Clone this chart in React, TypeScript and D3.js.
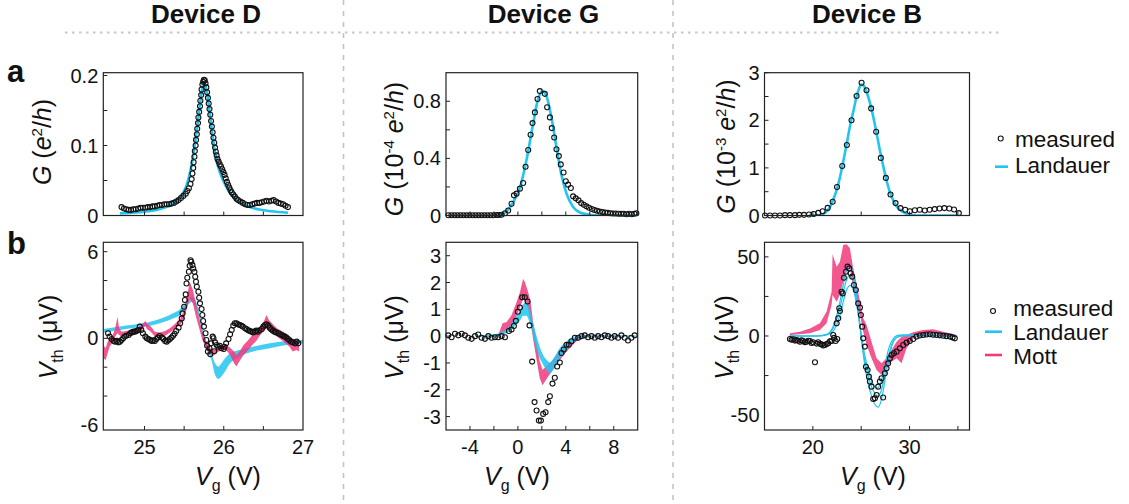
import React from "react";
import * as d3 from "d3";

type Pt = [number, number];
type Band = [number, number, number]; // x, low, high

const FONT = "'Liberation Sans', Arial, Helvetica, sans-serif";
const CYAN = "#22c4f0";
const PINK = "#f03a7c";

// ---------- Device D ----------
const devDMeasuredG: Pt[] = [
  [24.71, 0.012], [24.74, 0.010], [24.77, 0.009], [24.80, 0.008], [24.83, 0.008], [24.86, 0.009],
  [24.89, 0.009], [24.92, 0.010], [24.95, 0.011], [24.98, 0.011], [25.01, 0.011], [25.04, 0.012],
  [25.07, 0.012], [25.10, 0.013], [25.13, 0.013], [25.16, 0.014], [25.19, 0.015], [25.22, 0.015],
  [25.25, 0.016], [25.28, 0.016], [25.31, 0.016], [25.34, 0.017], [25.37, 0.018], [25.40, 0.020],
  [25.43, 0.022], [25.46, 0.025], [25.49, 0.028], [25.52, 0.031], [25.54, 0.035], [25.56, 0.039],
  [25.58, 0.045], [25.595, 0.052], [25.605, 0.060], [25.615, 0.068], [25.62, 0.076], [25.63, 0.084],
  [25.635, 0.092], [25.645, 0.100], [25.65, 0.108], [25.66, 0.116], [25.665, 0.124], [25.675, 0.132],
  [25.68, 0.140], [25.69, 0.148], [25.70, 0.156], [25.705, 0.164], [25.715, 0.172], [25.72, 0.180],
  [25.73, 0.187], [25.74, 0.191], [25.75, 0.194], [25.76, 0.193], [25.77, 0.189], [25.78, 0.183],
  [25.79, 0.176], [25.80, 0.168], [25.81, 0.160], [25.82, 0.152], [25.83, 0.144], [25.84, 0.135],
  [25.85, 0.127], [25.86, 0.119], [25.87, 0.111], [25.88, 0.104], [25.89, 0.097], [25.90, 0.091],
  [25.91, 0.086], [25.92, 0.081], [25.935, 0.077], [25.95, 0.073], [25.965, 0.070], [25.98, 0.066],
  [25.995, 0.062], [26.01, 0.058], [26.025, 0.053], [26.04, 0.048], [26.055, 0.044], [26.07, 0.040],
  [26.085, 0.036], [26.10, 0.033], [26.12, 0.030], [26.14, 0.027], [26.16, 0.024], [26.18, 0.022],
  [26.21, 0.020], [26.24, 0.018], [26.27, 0.016], [26.30, 0.015], [26.33, 0.015], [26.36, 0.016],
  [26.39, 0.017], [26.42, 0.018], [26.45, 0.018], [26.48, 0.019], [26.51, 0.020], [26.54, 0.021],
  [26.57, 0.020], [26.60, 0.021], [26.63, 0.022], [26.66, 0.020], [26.69, 0.018], [26.72, 0.017],
  [26.75, 0.016], [26.78, 0.014], [26.81, 0.012],
];

const devDLandauerG: Pt[] = [
  [24.69, 0.003], [24.85, 0.004], [25.0, 0.0055], [25.15, 0.008], [25.27, 0.012], [25.36, 0.017],
  [25.43, 0.024], [25.49, 0.033], [25.53, 0.043], [25.56, 0.055], [25.59, 0.07], [25.62, 0.09],
  [25.65, 0.113], [25.68, 0.14], [25.71, 0.168], [25.73, 0.183], [25.75, 0.19], [25.77, 0.186],
  [25.79, 0.175], [25.82, 0.15], [25.85, 0.122], [25.88, 0.097], [25.91, 0.078], [25.95, 0.062],
  [26.0, 0.048], [26.06, 0.036], [26.13, 0.026], [26.22, 0.018], [26.33, 0.012], [26.45, 0.0085],
  [26.6, 0.006], [26.81, 0.004],
];

const devDMeasuredV: Pt[] = [
  [24.54, 0.35], [24.56, 0.12], [24.585, -0.05], [24.61, -0.18], [24.63, -0.23], [24.65, -0.18],
  [24.67, -0.28], [24.69, -0.23], [24.71, -0.12], [24.73, 0], [24.75, 0.12], [24.77, 0.18],
  [24.80, 0.23], [24.82, 0.35], [24.84, 0.41], [24.86, 0.46], [24.88, 0.46], [24.90, 0.51],
  [24.92, 0.58], [24.94, 0.81], [24.96, 0.58], [24.98, 0.35], [25.01, 0.12], [25.03, 0],
  [25.05, -0.05], [25.07, -0.12], [25.09, -0.18], [25.11, -0.14], [25.13, -0.18], [25.15, -0.05],
  [25.17, 0.05], [25.19, 0.16], [25.22, 0.05], [25.24, -0.05], [25.26, -0.18], [25.28, -0.23],
  [25.30, -0.14], [25.32, -0.05], [25.34, 0.05], [25.36, 0.18], [25.38, 0.32], [25.40, 0.51],
  [25.43, 0.74], [25.45, 1.04], [25.47, 1.38], [25.48, 1.73], [25.50, 2.19], [25.51, 2.65],
  [25.52, 3.04], [25.53, 3.8], [25.54, 4.19], [25.56, 4.61], [25.57, 5.02], [25.58, 5.41],
  [25.59, 5.3], [25.605, 5.07], [25.615, 4.84], [25.63, 4.61], [25.64, 4.26], [25.65, 3.92],
  [25.66, 3.57], [25.68, 3.23], [25.69, 2.81], [25.70, 2.42], [25.72, 2.03], [25.73, 1.61],
  [25.74, 1.2], [25.75, 0.81], [25.77, 0.35], [25.78, -0.12], [25.79, -0.51], [25.80, -0.92],
  [25.83, -1.1], [25.82, -0.69], [25.84, -0.35], [25.86, 0.12], [25.87, 0], [25.88, -0.9],
  [25.89, -0.28], [25.91, -0.46], [25.93, -0.58], [25.95, -0.51], [25.97, -0.69], [26.0, -0.74],
  [26.01, -0.58], [26.03, -0.35], [26.06, -0.05], [26.08, 0.28], [26.10, 0.58], [26.12, 0.88],
  [26.14, 1.04], [26.16, 1.04], [26.18, 0.97], [26.20, 0.92], [26.22, 0.88], [26.24, 0.81],
  [26.27, 0.69], [26.29, 0.62], [26.31, 0.55], [26.33, 0.51], [26.35, 0.46], [26.37, 0.41],
  [26.39, 0.46], [26.41, 0.53], [26.43, 0.46], [26.45, 0.55], [26.48, 0.65], [26.50, 0.81],
  [26.52, 0.92], [26.54, 0.97], [26.56, 0.88], [26.58, 0.74], [26.60, 0.62], [26.62, 0.53],
  [26.64, 0.46], [26.66, 0.41], [26.69, 0.35], [26.71, 0.28], [26.73, 0.23], [26.75, 0.16],
  [26.77, 0.12], [26.79, 0.05], [26.81, -0.05], [26.83, -0.14], [26.85, -0.23], [26.87, -0.28],
  [26.90, -0.35], [26.92, -0.23], [26.94, -0.35],
];

const devDLandauerBand: Band[] = [
  [24.48, 0.41, 0.65], [24.77, 0.65, 0.88], [25.11, 0.92, 1.2], [25.36, 1.38, 1.73],
  [25.45, 1.61, 2.03], [25.53, 2.19, 2.53], [25.60, 2.53, 2.88], [25.66, 1.96, 2.42],
  [25.72, 0.69, 1.15], [25.78, -0.69, -0.23], [25.85, -1.61, -1.15], [25.89, -2.53, -1.73],
  [25.93, -2.81, -1.96], [26.0, -2.42, -1.5], [26.08, -1.73, -1.04], [26.20, -1.27, -0.81],
  [26.37, -0.92, -0.58], [26.58, -0.69, -0.35], [26.79, -0.46, -0.18], [27.0, -0.35, -0.12],
];

const devDMottBand: Band[] = [
  [24.48, -1.38, -0.46], [24.51, -1.5, -0.69], [24.535, -1.04, -0.23], [24.56, -0.58, 0],
  [24.6, -0.23, 0.23], [24.63, 0.12, 0.69], [24.66, 0.35, 1.5], [24.68, 0.23, 0.69],
  [24.71, 0.12, 0.46], [24.77, 0.18, 0.51], [24.84, 0.28, 0.58], [24.90, 0.35, 0.65],
  [24.96, 0.51, 0.92], [25.01, 0.88, 1.2], [25.03, 0.65, 1.04], [25.08, 0.46, 0.81],
  [25.13, 0.12, 0.46], [25.19, 0.09, 0.41], [25.26, 0.18, 0.51], [25.32, 0.41, 0.69],
  [25.38, 0.65, 0.97], [25.45, 0.92, 1.34], [25.50, 1.38, 1.96], [25.54, 2.19, 3.0],
  [25.57, 2.76, 3.92], [25.61, 2.42, 3.34], [25.65, 1.5, 2.42], [25.69, 0.69, 1.38],
  [25.73, -0.12, 0.46], [25.78, -0.69, -0.23], [25.83, -1.1, -0.69], [25.87, -1.2, -0.81],
  [25.92, -0.97, -0.69], [25.97, -0.81, -0.51], [26.03, -0.81, -0.46], [26.08, -1.15, -0.65],
  [26.13, -1.73, -0.92], [26.16, -1.96, -1.15], [26.20, -1.57, -0.92], [26.25, -1.15, -0.46],
  [26.31, -0.81, -0.12], [26.36, -0.46, 0.23], [26.41, -0.18, 0.41], [26.46, 0.23, 0.81],
  [26.50, 0.46, 1.1], [26.54, 0.69, 1.61], [26.57, 0.46, 1.27], [26.62, 0.35, 0.97],
  [26.67, 0.12, 0.69], [26.73, -0.12, 0.51], [26.78, -0.35, 0.35], [26.83, -0.58, 0.12],
  [26.87, -0.92, -0.05], [26.92, -0.81, -0.18], [26.95, -0.92, -0.28],
];

// ---------- Device G ----------
const devGMeasuredG: Pt[] = [
  [-5.8, 0.002], [-5.55, 0.002], [-5.3, 0.002], [-5.05, 0.002], [-4.8, 0.002], [-4.55, 0.002],
  [-4.3, 0.002], [-4.05, 0.002], [-3.8, 0.002], [-3.55, 0.002], [-3.3, 0.002], [-3.05, 0.002],
  [-2.8, 0.002], [-2.55, 0.002], [-2.3, 0.002], [-2.05, 0.002], [-1.8, 0.003], [-1.58, 0.003],
  [-1.36, 0.005], [-1.08, 0.016], [-0.81, 0.035], [-0.53, 0.082], [-0.33, 0.141], [-0.11, 0.153],
  [0.17, 0.188], [0.44, 0.228], [0.64, 0.341], [0.86, 0.459], [1.06, 0.565], [1.22, 0.647],
  [1.42, 0.722], [1.64, 0.816], [1.83, 0.871], [2.25, 0.852], [2.44, 0.758], [2.67, 0.687],
  [2.83, 0.612], [3.03, 0.546], [3.22, 0.464], [3.42, 0.416], [3.58, 0.358], [3.81, 0.301],
  [4.0, 0.24], [4.19, 0.216], [4.42, 0.193], [4.61, 0.134], [4.83, 0.12], [5.06, 0.106],
  [5.28, 0.087], [5.5, 0.075], [5.72, 0.064], [5.94, 0.054], [6.17, 0.045], [6.39, 0.038],
  [6.61, 0.033], [6.83, 0.028], [7.06, 0.024], [7.28, 0.021], [7.5, 0.019], [7.72, 0.016],
  [7.94, 0.014], [8.17, 0.014], [8.39, 0.012], [8.61, 0.012], [8.83, 0.012], [9.06, 0.009],
  [9.28, 0.012], [9.5, 0.009], [9.72, 0.012], [9.89, 0.016],
];

const devGLandauerG: Pt[] = [
  [-2.0, 0], [-1.64, 0.003], [-0.94, 0.03], [-0.39, 0.094], [0.17, 0.195], [0.72, 0.388],
  [1.28, 0.647], [1.69, 0.816], [2.06, 0.871], [2.39, 0.835], [2.81, 0.682], [3.22, 0.478],
  [3.64, 0.282], [4.06, 0.153], [4.61, 0.059], [5.17, 0.021], [6.0, 0.005], [6.83, 0], [9.89, 0],
];

const devGMeasuredV: Pt[] = [
  [-5.81, 0.03], [-5.53, -0.04], [-5.25, 0.09], [-4.97, 0.03], [-4.69, 0.09], [-4.42, 0.03],
  [-4.14, -0.06], [-3.86, -0.1], [-3.58, 0], [-3.31, 0.06], [-3.03, -0.06], [-2.75, -0.1],
  [-2.47, 0], [-2.19, -0.06], [-1.92, -0.04], [-1.64, -0.04], [-1.36, 0], [-1.08, -0.04],
  [-0.75, 0.19], [-0.53, 0.25], [-0.33, 0.38], [-0.17, 0.57], [0.0, 0.91], [0.17, 1.07],
  [0.36, 1.45], [0.58, 1.45], [0.81, 1.29], [0.97, 0.4], [1.19, -0.95], [1.39, -2.46],
  [1.56, -2.77], [1.75, -3.15], [1.92, -3.15], [2.11, -2.9], [2.31, -2.84], [2.53, -2.46],
  [2.67, -2.24], [2.89, -1.77], [3.08, -1.55], [3.28, -1.13], [3.5, -0.98], [3.64, -0.63],
  [3.83, -0.5], [4.06, -0.32], [4.25, -0.32], [4.47, -0.19], [4.75, -0.06], [5.03, -0.06],
  [5.31, 0], [5.58, 0.03], [5.86, -0.04], [6.14, 0], [6.42, -0.06], [6.69, 0], [6.97, -0.04],
  [7.25, 0.03], [7.53, 0], [7.81, -0.06], [8.08, 0], [8.36, -0.06], [8.64, 0.03], [8.92, -0.06],
  [9.19, -0.16], [9.47, -0.06], [9.75, 0.03],
];

const devGLandauerBand: Band[] = [
  [-3.44, -0.03, 0.03], [-2.06, -0.03, 0.06], [-1.22, 0.06, 0.19], [-0.67, 0.19, 0.38],
  [-0.11, 0.44, 0.76], [0.17, 0.57, 0.95], [0.44, 0.76, 1.2], [0.72, 0.76, 1.26],
  [1.0, 0.48, 0.95], [1.28, 0, 0.48], [1.56, -0.5, 0], [1.97, -0.95, -0.57],
  [2.39, -1.26, -0.88], [2.67, -1.39, -0.98], [2.94, -1.26, -0.86], [3.5, -0.82, -0.44],
  [4.06, -0.5, -0.19], [4.61, -0.23, -0.04], [5.17, -0.08, 0.03], [6.28, -0.03, 0.03],
  [9.89, -0.02, 0.02],
];

const devGMottBand: Band[] = [
  [-1.64, -0.04, 0.03], [-1.28, 0.1, 0.48], [-0.94, 0.23, 0.53], [-0.53, 0.4, 0.78],
  [-0.11, 0.76, 1.26], [0.17, 1.07, 1.64], [0.44, 1.39, 2.14], [0.58, 1.32, 2.02],
  [0.86, 1.01, 1.64], [1.06, 0.53, 1.26], [1.28, -0.13, 0.5], [1.56, -0.88, -0.25],
  [1.83, -1.58, -0.95], [2.06, -1.83, -1.26], [2.33, -1.64, -1.13], [2.81, -1.32, -0.95],
  [3.22, -1.07, -0.69], [3.78, -0.73, -0.44], [4.33, -0.44, -0.19], [4.89, -0.19, -0.06],
  [5.44, -0.06, 0],
];

// ---------- Device B ----------
const devBMeasuredG: Pt[] = [
  [15.05, 0], [15.57, 0], [16.08, 0], [16.6, 0], [17.12, 0.007], [17.63, 0.007], [18.15, 0.007],
  [18.6, 0.014], [19.08, 0.014], [19.6, 0.02], [20.08, 0.03], [20.56, 0.056], [21.01, 0.09],
  [21.53, 0.16], [22.05, 0.29], [22.5, 0.6], [23.04, 1.04], [23.52, 1.48], [24.0, 2.0],
  [24.52, 2.51], [25.04, 2.79], [25.55, 2.63], [26.03, 2.25], [26.55, 1.76], [27.03, 1.21],
  [27.55, 0.79], [28.03, 0.44], [28.55, 0.26], [29.06, 0.155], [29.55, 0.12], [30.03, 0.09],
  [30.55, 0.11], [31.06, 0.12], [31.58, 0.106], [32.08, 0.12], [32.6, 0.134], [33.1, 0.148],
  [33.6, 0.155], [34.1, 0.148], [34.6, 0.127], [35.1, 0.05],
];

const devBLandauerG: Pt[] = [
  [19.6, 0], [20.4, 0.003], [21.08, 0.035], [21.77, 0.176], [22.1, 0.33], [22.45, 0.53],
  [22.8, 0.8], [23.14, 1.13], [23.5, 1.5], [23.83, 1.87], [24.2, 2.2], [24.52, 2.5], [24.8, 2.68],
  [25.04, 2.75], [25.3, 2.72], [25.55, 2.6], [25.9, 2.37], [26.24, 2.08], [26.6, 1.72],
  [26.93, 1.37], [27.3, 1.02], [27.62, 0.74], [27.95, 0.5], [28.31, 0.32], [28.65, 0.2],
  [29.0, 0.12], [29.35, 0.07], [29.7, 0.035], [30.1, 0.015], [30.7, 0], [34.86, 0],
];

const devBMeasuredV: Pt[] = [
  [17.63, -1.9], [17.8, -2.4], [17.98, -2.1], [18.15, -2.9], [18.32, -2.5], [18.5, -3.0],
  [18.67, -3.6], [18.84, -2.8], [19.01, -3.2], [19.18, -3.9], [19.36, -3.6], [19.53, -3.0],
  [19.7, -3.2], [19.87, -4.4], [20.04, -4.0], [20.22, -16.6], [20.39, -4.8], [20.56, -4.0],
  [20.73, -4.9], [20.9, -5.3], [21.08, -6.0], [21.25, -5.7], [21.42, -5.1], [21.59, -4.6],
  [21.77, -3.4], [21.94, -3.2], [22.11, 0.6], [22.2, -1.2], [22.35, -3.2], [22.52, -1.9],
  [22.46, 8.0], [22.63, 11.2], [22.73, 17.5], [22.8, 15.8], [22.97, 28.0], [23.08, 26.9],
  [23.21, 36.8], [23.42, 40.6], [23.59, 43.8], [23.76, 42.7], [23.9, 39.6], [24.07, 37.5],
  [24.25, 32.2], [24.45, 29.1], [24.69, 20.6], [24.87, 17.9], [24.97, 13.3], [25.11, 5.9],
  [25.21, -1.5], [25.38, -6.7], [25.49, -19.4], [25.66, -21.5], [25.8, -25.7], [25.9, -28.8],
  [26.07, -32.0], [26.24, -39.8], [26.42, -39.4], [26.59, -37.3], [26.76, -32.0], [26.93, -28.8],
  [27.1, -26.7], [27.27, -38.9], [27.45, -23.6], [27.62, -20.4], [27.79, -17.3], [27.97, -14.1],
  [28.14, -12.0], [28.38, -10.9], [28.66, -9.9], [29.0, -7.8], [29.35, -5.7], [29.69, -4.2],
  [30.03, -3.2], [30.38, -1.9], [30.72, -0.4], [31.06, 0.3], [31.41, 0.6], [31.75, 0.9],
  [32.1, 1.1], [32.44, 0.8], [32.79, 0.6], [33.13, 0.4], [33.48, 0.2], [33.82, -0.1],
  [34.17, -0.4], [34.45, -0.9], [34.68, -1.5],
];

const devBLandauerOuter: Pt[] = [
  [17.6, 0], [20.4, 0], [21.43, 1], [22.1, 6], [22.6, 16], [23.07, 30], [23.41, 40], [23.76, 45],
  [24.1, 42], [24.45, 30], [24.79, 12], [25.14, -8], [25.55, -25], [26.07, -38], [26.5, -44],
  [26.76, -45], [27.1, -40], [27.62, -22], [28.13, -7], [28.65, -1], [29.3, 0], [34.86, 0],
];

const devBLandauerMiddle: Pt[] = [
  [17.6, 0], [20.4, 0], [21.43, 0.8], [22.1, 5], [22.6, 13], [23.07, 25], [23.41, 34], [23.76, 38],
  [24.1, 36], [24.45, 26], [24.79, 10], [25.14, -7], [25.55, -21], [26.07, -32], [26.5, -37],
  [26.76, -38], [27.1, -34], [27.62, -19], [28.13, -6], [28.65, -1], [29.3, 0.5], [34.86, 0],
];

const devBLandauerInner: Pt[] = [
  [17.6, 0], [20.4, 0], [21.6, 1], [22.3, 5], [22.8, 13], [23.2, 23], [23.55, 30], [23.85, 32],
  [24.2, 29], [24.55, 19], [24.9, 5], [25.3, -10], [25.75, -22], [26.2, -30], [26.6, -33],
  [26.95, -31], [27.35, -22], [27.8, -9], [28.3, -2], [28.9, 0.5], [30.0, 0.5], [34.86, 0],
];

const devBMottBand: Band[] = [
  [17.63, 0.6, 1.7], [18.67, 1.1, 2.7], [19.7, 1.7, 4.8], [20.73, 3.8, 8.0], [21.42, 8.0, 15.4],
  [21.94, 19.6, 28.0], [22.04, 25.9, 51.6], [22.46, 21.7, 43.8], [22.8, 25.9, 46.9],
  [23.14, 34.3, 57.5], [23.49, 41.7, 57.9], [23.83, 43.8, 55.4], [24.18, 30.1, 42.7],
  [24.52, 21.7, 33.3], [24.87, 13.3, 21.7], [25.21, 2.7, 11.2], [25.56, -5.7, 6.9],
  [26.07, -14.1, -3.6], [26.59, -21.5, -14.1], [27.1, -24.6, -17.3], [27.62, -19.4, -14.1],
  [28.14, -16.2, -8.8], [28.66, -14.1, -3.6], [29.17, -17.3, -0.4], [29.69, -7.8, 0.6],
  [30.38, -1.5, 2.3], [31.41, 1.1, 3.8], [32.44, 1.5, 4.2], [33.48, 0.6, 2.7], [34.51, 0.2, 1.3],
  [34.86, 0.2, 0.6],
];

// ---------- texts ----------
const deviceTitles = ["Device D", "Device G", "Device B"];
const legendTop = ["measured", "Landauer"];
const legendBottom = ["measured", "Landauer", "Mott"];

interface PanelSpec {
  id: string;
  box: [number, number, number, number];
  xDom: [number, number];
  yDom: [number, number];
  xTicks: number[];
  xLabels: number[];
  yTicks: number[];
  yLabels: number[];
  measured: Pt[];
  lines?: Pt[][];
  lineWidth?: number;
  cyanBand?: Band[];
  pinkBand?: Band[];
  pinkOnTop?: boolean;
}

const colD: [number, number] = [103.3, 303];
const colG: [number, number] = [446, 637.7];
const colB: [number, number] = [764.5, 969.5];
const rowA: [number, number] = [72.7, 215.5];
const rowB: [number, number] = [242.3, 430];

const panels: PanelSpec[] = [
  {
    id: "da", box: [colD[0], rowA[0], colD[1], rowA[1]], xDom: [24.48, 27], yDom: [0, 0.204],
    xTicks: [25, 25.5, 26, 26.5], xLabels: [], yTicks: [0.05, 0.1, 0.15, 0.2], yLabels: [0, 0.1, 0.2],
    measured: devDMeasuredG, lines: [devDLandauerG], lineWidth: 2.6,
  },
  {
    id: "db", box: [colD[0], rowB[0], colD[1], rowB[1]], xDom: [24.48, 27], yDom: [-6.35, 6.65],
    xTicks: [25, 25.5, 26, 26.5], xLabels: [25, 26, 27], yTicks: [-4, -2, 0, 2, 4, 6], yLabels: [-6, 0, 6],
    measured: devDMeasuredV, cyanBand: devDLandauerBand, pinkBand: devDMottBand, pinkOnTop: true,
  },
  {
    id: "ga", box: [colG[0], rowA[0], colG[1], rowA[1]], xDom: [-6, 10], yDom: [0, 1.0],
    xTicks: [-4, -2, 0, 2, 4, 6, 8], xLabels: [], yTicks: [0.2, 0.4, 0.6, 0.8], yLabels: [0, 0.4, 0.8],
    measured: devGMeasuredG, lines: [devGLandauerG], lineWidth: 2.6,
  },
  {
    id: "gb", box: [colG[0], rowB[0], colG[1], rowB[1]], xDom: [-6, 10], yDom: [-3.5, 3.5],
    xTicks: [-4, -2, 0, 2, 4, 6, 8], xLabels: [-4, 0, 4, 8], yTicks: [-3, -2, -1, 0, 1, 2, 3],
    yLabels: [-3, -2, -1, 0, 1, 2, 3],
    measured: devGMeasuredV, cyanBand: devGLandauerBand, pinkBand: devGMottBand, pinkOnTop: false,
  },
  {
    id: "ba", box: [colB[0], rowA[0], colB[1], rowA[1]], xDom: [15, 36.2], yDom: [0, 3],
    xTicks: [20, 25, 30, 35], xLabels: [], yTicks: [0.5, 1, 1.5, 2, 2.5, 3], yLabels: [0, 1, 2, 3],
    measured: devBMeasuredG, lines: [devBLandauerG], lineWidth: 2.6,
  },
  {
    id: "bb", box: [colB[0], rowB[0], colB[1], rowB[1]], xDom: [15, 36.2], yDom: [-59.4, 59.2],
    xTicks: [20, 25, 30, 35], xLabels: [20, 30], yTicks: [-25, 0, 25, 50], yLabels: [-50, 0, 50],
    measured: devBMeasuredV, pinkBand: devBMottBand,
    lines: [devBLandauerOuter, devBLandauerMiddle, devBLandauerInner], lineWidth: 1.2,
  },
];

function Panel({ spec }: { spec: PanelSpec }) {
  const [x0, y0, x1, y1] = spec.box;
  const xS = d3.scaleLinear().domain(spec.xDom).range([x0, x1]);
  const yS = d3.scaleLinear().domain(spec.yDom).range([y1, y0]);
  const line = d3.line<Pt>().x((d) => xS(d[0])).y((d) => yS(d[1])).curve(d3.curveMonotoneX);
  const area = d3.area<Band>().x((d) => xS(d[0])).y0((d) => yS(d[1])).y1((d) => yS(d[2]));
  const smoothArea = area.curve(d3.curveMonotoneX);

  const cyan = spec.cyanBand ? (
    <path d={smoothArea(spec.cyanBand) || ""} fill={CYAN} fillOpacity={0.85} />
  ) : null;
  const pink = spec.pinkBand ? (
    <path
      d={d3.area<Band>().x((d) => xS(d[0])).y0((d) => yS(d[1])).y1((d) => yS(d[2]))(spec.pinkBand) || ""}
      fill={PINK}
      fillOpacity={0.85}
    />
  ) : null;

  return (
    <g>
      <clipPath id={`clip-${spec.id}`}>
        <rect x={x0} y={y0} width={x1 - x0} height={y1 - y0} />
      </clipPath>
      <g clipPath={`url(#clip-${spec.id})`}>
        {spec.pinkOnTop ? cyan : pink}
        {spec.pinkOnTop ? pink : cyan}
        {(spec.lines || []).map((l, i) => (
          <path key={i} d={line(l) || ""} fill="none" stroke={CYAN} strokeWidth={spec.lineWidth} />
        ))}
      </g>
      {spec.measured.map((d, i) => (
        <circle key={i} cx={xS(d[0])} cy={yS(d[1])} r={2.5} fill="none" stroke="#111" strokeWidth={1.1} />
      ))}
      <rect x={x0} y={y0} width={x1 - x0} height={y1 - y0} fill="none" stroke="#222" strokeWidth={1.2} />
      {spec.xTicks.map((t) => (
        <line key={t} x1={xS(t)} x2={xS(t)} y1={y1} y2={y1 - 4} stroke="#222" strokeWidth={1} />
      ))}
      {spec.yTicks.map((t) => (
        <line key={t} x1={x0} x2={x0 + 4} y1={yS(t)} y2={yS(t)} stroke="#222" strokeWidth={1} />
      ))}
      {spec.xLabels.map((t) => (
        <text key={t} x={xS(t)} y={454} textAnchor="middle" fontSize={20} fontFamily={FONT} fill="#111">
          {String(t)}
        </text>
      ))}
      {spec.yLabels.map((t) => (
        <text key={t} x={x0 - 5} y={yS(t)} dy="0.35em" textAnchor="end" fontSize={20} fontFamily={FONT} fill="#111">
          {String(t)}
        </text>
      ))}
    </g>
  );
}

function GLabel({ x, y, exp }: { x: number; y: number; exp?: string }) {
  return (
    <text transform={`translate(${x},${y}) rotate(-90)`} textAnchor="middle" fontSize={25} fontFamily={FONT} fill="#111">
      <tspan fontStyle="italic">G</tspan>
      <tspan> (</tspan>
      {exp ? (
        <>
          <tspan>10</tspan>
          <tspan dy={-9} fontSize={15}>{exp}</tspan>
          <tspan dy={9}> </tspan>
        </>
      ) : null}
      <tspan fontStyle="italic">e</tspan>
      <tspan dy={-9} fontSize={15}>2</tspan>
      <tspan dy={9}>/</tspan>
      <tspan fontStyle="italic">h</tspan>
      <tspan>)</tspan>
    </text>
  );
}

function VthLabel({ x, y }: { x: number; y: number }) {
  return (
    <text transform={`translate(${x},${y}) rotate(-90)`} textAnchor="middle" fontSize={25} fontFamily={FONT} fill="#111">
      <tspan fontStyle="italic">V</tspan>
      <tspan dy={6} fontSize={16}>th</tspan>
      <tspan dy={-6}> (μV)</tspan>
    </text>
  );
}

function VgLabel({ x, y }: { x: number; y: number }) {
  return (
    <text x={x} y={y} textAnchor="middle" fontSize={25} fontFamily={FONT} fill="#111">
      <tspan fontStyle="italic">V</tspan>
      <tspan dy={6} fontSize={16}>g</tspan>
      <tspan dy={-6}> (V)</tspan>
    </text>
  );
}

export default function App() {
  const titleX = [206, 543.5, 867];
  return (
    <svg width={1129} height={504} style={{ position: "absolute", left: 0, top: 0, background: "#fff" }}>
      <rect width={1129} height={504} fill="#fff" />
      <line x1={65} x2={1001} y1={32.5} y2={32.5} stroke="#c8c8c8" strokeWidth={2} strokeDasharray="2.5,4.5" />
      {[343.5, 673].map((x) => (
        <line key={x} x1={x} x2={x} y1={0} y2={504} stroke="#c4c4c4" strokeWidth={1.6} strokeDasharray="5,6" />
      ))}
      {deviceTitles.map((t, i) => (
        <text key={t} x={titleX[i]} y={22.7} textAnchor="middle" fontSize={26} fontWeight="bold" fontFamily={FONT} fill="#111">
          {t}
        </text>
      ))}
      <text x={7} y={82} fontSize={31} fontWeight="bold" fontFamily={FONT} fill="#111">a</text>
      <text x={7} y={254} fontSize={31} fontWeight="bold" fontFamily={FONT} fill="#111">b</text>

      {panels.map((p) => (
        <Panel key={p.id} spec={p} />
      ))}

      <GLabel x={51} y={142} />
      <GLabel x={403} y={149} exp="-4" />
      <GLabel x={735} y={146.5} exp="-3" />
      <VthLabel x={57} y={337} />
      <VthLabel x={403} y={337.5} />
      <VthLabel x={733} y={337.5} />
      <VgLabel x={228} y={485} />
      <VgLabel x={517} y={485} />
      <VgLabel x={873} y={485} />

      {/* top legend */}
      <circle cx={1000.7} cy={138.5} r={2.5} fill="none" stroke="#111" strokeWidth={1.1} />
      <line x1={995} x2={1008} y1={166.7} y2={166.7} stroke={CYAN} strokeWidth={2.6} />
      {legendTop.map((t, i) => (
        <text key={t} x={1015} y={146.7 + i * 26.3} fontSize={22.5} fontFamily={FONT} fill="#111">{t}</text>
      ))}

      {/* bottom legend */}
      <circle cx={993} cy={311} r={2.5} fill="none" stroke="#111" strokeWidth={1.1} />
      <line x1={985} x2={1002} y1={331.7} y2={331.7} stroke={CYAN} strokeWidth={2.6} />
      <line x1={985} x2={1002} y1={355} y2={355} stroke={PINK} strokeWidth={2.6} />
      {legendBottom.map((t, i) => (
        <text key={t} x={1013.3} y={315.5 + i * 24} fontSize={22.5} fontFamily={FONT} fill="#111">{t}</text>
      ))}
    </svg>
  );
}
